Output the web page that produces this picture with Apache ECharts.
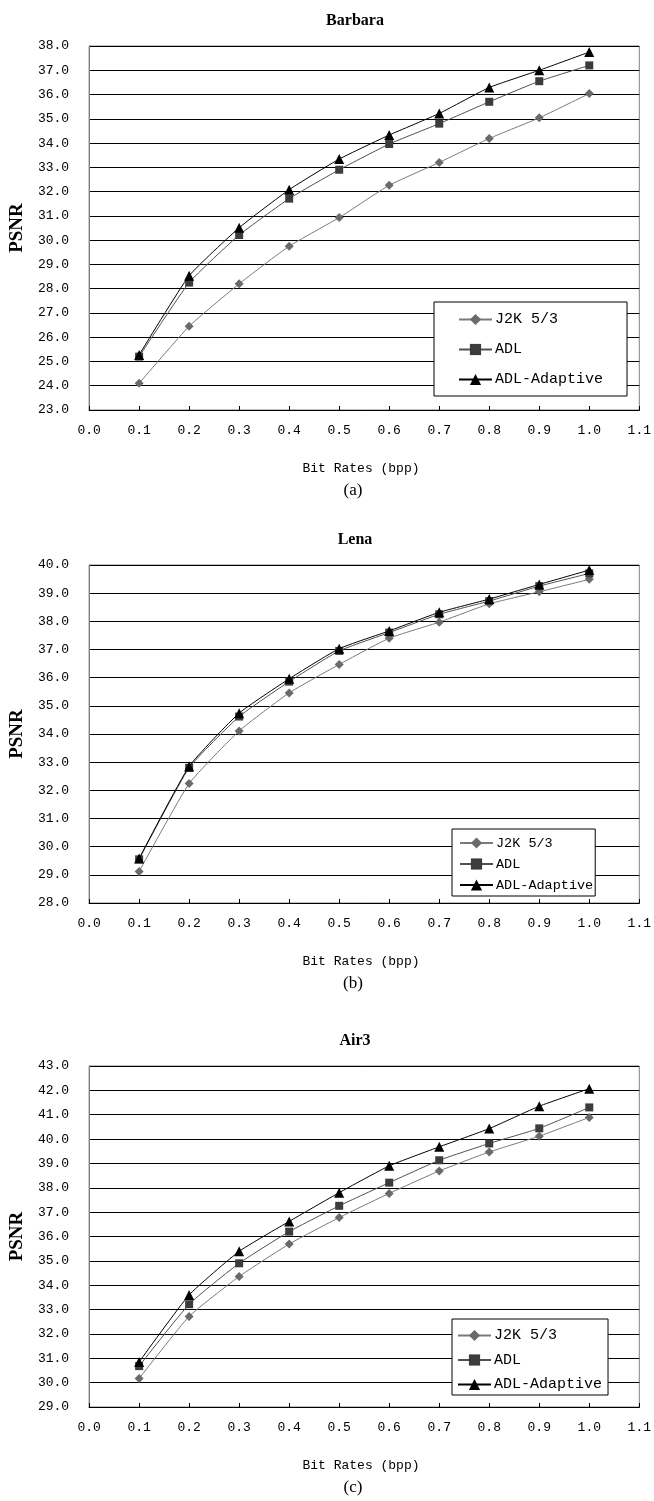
<!DOCTYPE html>
<html>
<head>
<meta charset="utf-8">
<script src="https://cdn.jsdelivr.net/npm/echarts@6/dist/echarts.min.js"></script>
<style>
html,body{margin:0;padding:0;background:#fff;}
#chart{width:654px;height:1501px;}
</style>
</head>
<body>
<div id="chart"></div>
<script>
// ---- data ----
const bitRates = [0.1, 0.2, 0.3, 0.4, 0.5, 0.6, 0.7, 0.8, 0.9, 1.0];
const seriesNames = ['J2K 5/3', 'ADL', 'ADL-Adaptive'];
const panelTitles = ['Barbara', 'Lena', 'Air3'];
const panelCaptions = ['(a)', '(b)', '(c)'];
const xAxisName = 'Bit Rates (bpp)';
const yAxisName = 'PSNR';

const barbaraJ2K      = [24.10, 26.45, 28.20, 29.75, 30.93, 32.26, 33.20, 34.19, 35.04, 36.04];
const barbaraADL      = [25.20, 28.25, 30.21, 31.71, 32.90, 33.96, 34.80, 35.70, 36.55, 37.20];
const barbaraAdaptive = [25.27, 28.53, 30.51, 32.08, 33.34, 34.33, 35.22, 36.29, 37.00, 37.75];

const lenaJ2K      = [29.12, 32.24, 34.11, 35.46, 36.47, 37.40, 37.97, 38.62, 39.05, 39.49];
const lenaADL      = [29.55, 32.80, 34.62, 35.86, 36.95, 37.60, 38.25, 38.72, 39.25, 39.70];
const lenaAdaptive = [29.58, 32.85, 34.74, 35.96, 37.03, 37.66, 38.32, 38.79, 39.31, 39.82];

const airJ2K      = [30.17, 32.72, 34.36, 35.69, 36.78, 37.77, 38.69, 39.47, 40.12, 40.89];
const airADL      = [30.68, 33.22, 34.90, 36.20, 37.26, 38.21, 39.13, 39.82, 40.44, 41.30];
const airAdaptive = [30.85, 33.60, 35.39, 36.62, 37.80, 38.90, 39.68, 40.43, 41.35, 42.07];

const xMin = 0, xMax = 1.1, xStep = 0.1;
const yRanges = [[23, 38], [28, 40], [29, 43]];

// ---- layout / style ----
const MONO = '"Liberation Mono", "DejaVu Sans Mono", monospace';
const SERIF = '"Liberation Serif", "DejaVu Serif", serif';
const grids = [
  {left: 88, top: 46, width: 557, height: 364},
  {left: 88, top: 565, width: 557, height: 338},
  {left: 88, top: 1066, width: 557, height: 341}
];
const legendBoxes = [
  {left: 434, top: 302, itemGap: 15, fontSize: 15, padding: [10, 24, 9, 24]},
  {left: 452, top: 829, itemGap: 7, fontSize: 13.5, padding: [7, 2, 4, 7]},
  {left: 452, top: 1319, itemGap: 9.5, fontSize: 15, padding: [9, 6, 3, 5]}
];
const panelData = [
  [barbaraJ2K, barbaraADL, barbaraAdaptive],
  [lenaJ2K, lenaADL, lenaAdaptive],
  [airJ2K, airADL, airAdaptive]
];
const seriesStyle = [
  {symbol: 'diamond', symbolSize: 9, color: '#6a6a6a', line: '#7a7a7a'},
  {symbol: 'rect', symbolSize: 8, color: '#3c3c3c', line: '#505050'},
  {symbol: 'triangle', symbolSize: 10, color: '#000000', line: '#000000'}
];

const titles = [], xAxes = [], yAxes = [], series = [], legends = [];
grids.forEach((g, i) => {
  titles.push({text: panelTitles[i], left: 350, top: g.top - 38, textAlign: 'center',
    textStyle: {fontFamily: SERIF, fontSize: 16, fontWeight: 'bold', color: '#000'}});
  titles.push({text: xAxisName, left: 356, top: g.top + g.height + 47, textAlign: 'center',
    textStyle: {fontFamily: MONO, fontSize: 13, fontWeight: 'normal', color: '#000'}});
  titles.push({text: panelCaptions[i], left: 348, top: g.top + g.height + 67, textAlign: 'center',
    textStyle: {fontFamily: SERIF, fontSize: 17, fontWeight: 'normal', color: '#000'}});
  xAxes.push({
    type: 'value', gridIndex: i, min: xMin, max: xMax, interval: xStep,
    axisLine: {show: true, lineStyle: {color: '#000', width: 1}},
    axisTick: {show: true, inside: true, length: 4, lineStyle: {color: '#000'}},
    axisLabel: {margin: 14, fontFamily: MONO, fontSize: 13, color: '#000',
      formatter: v => v.toFixed(1)},
    splitLine: {show: false}
  });
  yAxes.push({
    type: 'value', gridIndex: i, min: yRanges[i][0], max: yRanges[i][1], interval: 1,
    name: yAxisName, nameLocation: 'middle', nameGap: 56, nameRotate: 90,
    nameTextStyle: {fontFamily: SERIF, fontSize: 19, fontWeight: 'bold', color: '#000'},
    axisLine: {show: true, lineStyle: {color: '#808080'}},
    axisTick: {show: false},
    axisLabel: {margin: 20, fontFamily: MONO, fontSize: 13, color: '#000',
      formatter: v => v.toFixed(1)},
    splitLine: {show: true, lineStyle: {color: '#000', width: 1.2}}
  });
  panelData[i].forEach((vals, k) => {
    const st = seriesStyle[k];
    series.push({
      name: seriesNames[k], type: 'line', xAxisIndex: i, yAxisIndex: i,
      data: bitRates.map((x, j) => [x, vals[j]]),
      symbol: st.symbol, symbolSize: st.symbolSize, smooth: 0.15,
      showAllSymbol: true, animation: false, z: 3 + k,
      itemStyle: {color: st.color, borderWidth: 0},
      lineStyle: {color: st.line, width: 1}
    });
  });
  const lb = legendBoxes[i];
  legends.push({
    data: seriesNames, orient: 'vertical', left: lb.left, top: lb.top,
    itemGap: lb.itemGap, itemWidth: 33, itemHeight: 14, padding: lb.padding,
    backgroundColor: '#fff', borderColor: '#000', borderWidth: 1, borderRadius: 0,
    selectedMode: false,
    textStyle: {fontFamily: MONO, fontSize: lb.fontSize, color: '#000', padding: [0, 0, 0, -2]}
  });
});

const chart = echarts.init(document.getElementById('chart'), null, {renderer: 'canvas'});
chart.setOption({
  backgroundColor: '#fff',
  animation: false,
  title: titles,
  grid: grids.map(g => Object.assign({show: true, borderColor: '#808080', borderWidth: 1, backgroundColor: '#fff'}, g)),
  xAxis: xAxes,
  yAxis: yAxes,
  legend: legends,
  series: series
});
</script>
</body>
</html>
